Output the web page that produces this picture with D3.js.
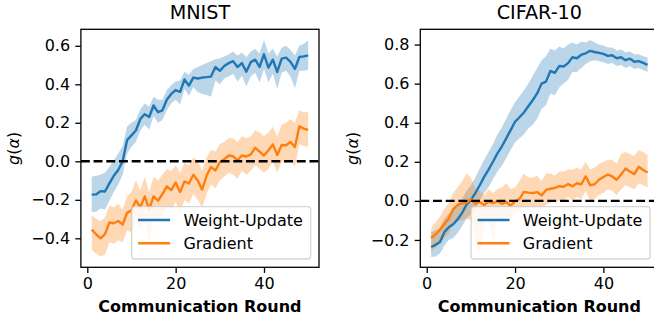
<!DOCTYPE html>
<html>
<head>
<meta charset="utf-8">
<script src="https://cdn.jsdelivr.net/npm/d3@7"></script>
<style>
  html, body { margin: 0; padding: 0; background: #fff; }
  svg { display: block; font-family: "DejaVu Sans", sans-serif; }
</style>
</head>
<body>
<div id="chart"></div>
<script>
// ---------------- DATA ----------------
const rounds = d3.range(1, 51);
const xTicks = [0, 20, 40];
const mnistYTicks = [-0.4, -0.2, 0.0, 0.2, 0.4, 0.6];
const cifarYTicks = [-0.2, 0.0, 0.2, 0.4, 0.6, 0.8];
const panelTitles = ["MNIST", "CIFAR-10"];
const seriesNames = ["Weight-Update", "Gradient"];

// MNIST Weight-Update mean / upper / lower
const mnistWeight = [-0.173,-0.172,-0.155,-0.157,-0.115,-0.075,-0.045,0.0,0.11,0.135,
  0.16,0.22,0.245,0.23,0.29,0.255,0.265,0.32,0.35,0.37,
  0.36,0.425,0.393,0.435,0.43,0.435,0.437,0.44,0.49,0.47,
  0.495,0.51,0.52,0.49,0.51,0.465,0.515,0.528,0.49,0.556,
  0.487,0.528,0.464,0.533,0.539,0.516,0.48,0.542,0.545,0.55];
const mnistWeightUp = [-0.08,-0.075,-0.07,-0.06,-0.03,0.005,0.04,0.08,0.18,0.2,
  0.215,0.27,0.3,0.285,0.335,0.32,0.32,0.37,0.395,0.415,
  0.42,0.465,0.45,0.48,0.49,0.5,0.51,0.52,0.53,0.535,
  0.545,0.555,0.57,0.55,0.565,0.54,0.57,0.585,0.56,0.63,
  0.56,0.585,0.545,0.59,0.6,0.58,0.55,0.6,0.61,0.628];
const mnistWeightLo = [-0.263,-0.262,-0.245,-0.25,-0.205,-0.16,-0.12,-0.07,0.04,0.075,
  0.1,0.16,0.19,0.165,0.235,0.2,0.215,0.265,0.3,0.32,
  0.295,0.375,0.34,0.385,0.36,0.35,0.345,0.335,0.42,0.4,
  0.43,0.44,0.455,0.415,0.445,0.39,0.44,0.46,0.41,0.48,
  0.41,0.455,0.377,0.46,0.47,0.44,0.38,0.47,0.47,0.475];

// MNIST Gradient mean / upper / lower
const mnistGrad = [-0.355,-0.379,-0.4,-0.378,-0.318,-0.322,-0.31,-0.328,-0.268,-0.255,
  -0.203,-0.24,-0.182,-0.25,-0.182,-0.205,-0.17,-0.13,-0.15,-0.11,
  -0.16,-0.105,-0.115,-0.07,-0.1,-0.147,-0.075,-0.03,-0.048,-0.005,
  0.01,0.03,0.026,0.005,0.03,0.025,0.036,0.07,0.05,0.03,
  0.057,0.088,0.033,0.085,0.083,0.1,0.074,0.182,0.17,0.163];
const mnistGradUp = [-0.28,-0.3,-0.31,-0.29,-0.23,-0.24,-0.22,-0.25,-0.18,-0.16,
  -0.1,-0.15,-0.08,-0.16,-0.08,-0.1,-0.07,-0.04,-0.05,-0.02,
  -0.06,-0.01,-0.02,0.02,0.0,-0.05,0.02,0.06,0.05,0.09,
  0.1,0.12,0.12,0.1,0.13,0.12,0.13,0.16,0.15,0.13,
  0.15,0.18,0.13,0.19,0.2,0.22,0.2,0.265,0.255,0.255];
const mnistGradLo = [-0.46,-0.48,-0.494,-0.485,-0.42,-0.43,-0.41,-0.42,-0.36,-0.37,
  -0.31,-0.35,-0.3,-0.42,-0.29,-0.32,-0.28,-0.23,-0.26,-0.21,
  -0.27,-0.2,-0.22,-0.17,-0.2,-0.24,-0.17,-0.12,-0.14,-0.1,
  -0.08,-0.06,-0.07,-0.09,-0.05,-0.07,-0.05,-0.02,-0.04,-0.06,
  -0.04,0.0,-0.06,0.0,-0.01,0.01,-0.03,0.09,0.08,0.075];

// CIFAR-10 Weight-Update mean / upper / lower
const cifarWeight = [-0.236,-0.225,-0.21,-0.16,-0.135,-0.12,-0.095,-0.062,-0.02,0.005,
  0.04,0.08,0.123,0.16,0.2,0.243,0.278,0.32,0.362,0.405,
  0.428,0.452,0.484,0.515,0.55,0.6,0.61,0.665,0.655,0.69,
  0.688,0.705,0.735,0.73,0.748,0.755,0.768,0.762,0.757,0.752,
  0.742,0.745,0.73,0.735,0.72,0.728,0.712,0.715,0.706,0.696];
const cifarWeightUp = [-0.16,-0.15,-0.14,-0.09,-0.065,-0.05,-0.02,0.01,0.05,0.08,
  0.12,0.165,0.21,0.25,0.29,0.34,0.375,0.42,0.465,0.505,
  0.535,0.565,0.6,0.64,0.68,0.72,0.74,0.78,0.77,0.79,
  0.78,0.8,0.81,0.8,0.815,0.81,0.823,0.81,0.8,0.795,
  0.785,0.785,0.77,0.775,0.76,0.765,0.75,0.75,0.74,0.735];
const cifarWeightLo = [-0.287,-0.285,-0.27,-0.23,-0.2,-0.19,-0.165,-0.13,-0.09,-0.07,
  -0.04,0.0,0.04,0.07,0.11,0.15,0.18,0.22,0.26,0.3,
  0.32,0.34,0.37,0.39,0.42,0.47,0.49,0.55,0.54,0.58,
  0.6,0.62,0.66,0.66,0.68,0.7,0.715,0.72,0.715,0.71,
  0.7,0.705,0.69,0.695,0.68,0.69,0.675,0.68,0.67,0.66];

// CIFAR-10 Gradient mean / upper / lower
const cifarGrad = [-0.19,-0.172,-0.148,-0.118,-0.09,-0.042,-0.02,-0.012,-0.01,0.01,
  -0.015,-0.005,-0.022,-0.004,-0.012,-0.002,-0.015,-0.006,-0.025,-0.002,
  0.01,0.046,0.042,0.04,0.045,0.028,0.056,0.062,0.066,0.075,
  0.072,0.086,0.075,0.09,0.085,0.126,0.08,0.085,0.108,0.122,
  0.135,0.125,0.108,0.135,0.165,0.15,0.137,0.175,0.158,0.145];
const cifarGradUp = [-0.14,-0.11,-0.08,-0.04,-0.01,0.04,0.07,0.1,0.14,0.12,
  0.06,0.05,0.03,0.06,0.04,0.06,0.07,0.09,0.06,0.07,
  0.1,0.14,0.12,0.12,0.13,0.1,0.14,0.14,0.13,0.15,
  0.15,0.16,0.16,0.17,0.16,0.2,0.16,0.17,0.19,0.2,
  0.21,0.21,0.19,0.24,0.25,0.24,0.23,0.26,0.25,0.235];
const cifarGradLo = [-0.26,-0.24,-0.22,-0.19,-0.17,-0.12,-0.1,-0.1,-0.09,-0.1,
  -0.2,-0.27,-0.13,-0.09,-0.2,-0.08,-0.1,-0.08,-0.1,-0.06,
  -0.05,-0.04,-0.03,-0.04,-0.03,-0.04,-0.02,-0.01,0.0,0.0,
  0.0,0.02,0.0,0.02,0.01,0.05,0.0,0.01,0.03,0.04,
  0.06,0.05,0.03,0.06,0.08,0.07,0.06,0.09,0.08,0.07];

const mnistYDomain = [-0.5506, 0.6857];
const cifarYDomain = [-0.34, 0.878];
const xDomain = [-1.45, 52.45];

// ---------------- DRAWING ----------------
const W = 654, H = 322;
const C_BLUE = "#1f77b4", C_ORANGE = "#ff7f0e";
const svg = d3.select("#chart").append("svg").attr("width", W).attr("height", H);

const panels = [
  { title: panelTitles[0], left: 80.9, right: 319.0, yDomain: mnistYDomain, yTicks: mnistYTicks,
    series: [
      { name: seriesNames[0], mean: mnistWeight, up: mnistWeightUp, lo: mnistWeightLo, color: C_BLUE },
      { name: seriesNames[1], mean: mnistGrad, up: mnistGradUp, lo: mnistGradLo, color: C_ORANGE }
    ] },
  { title: panelTitles[1], left: 420.3, right: 658.4, yDomain: cifarYDomain, yTicks: cifarYTicks,
    series: [
      { name: seriesNames[0], mean: cifarWeight, up: cifarWeightUp, lo: cifarWeightLo, color: C_BLUE },
      { name: seriesNames[1], mean: cifarGrad, up: cifarGradUp, lo: cifarGradLo, color: C_ORANGE }
    ] }
];

const TOP = 29.3, BOTTOM = 267.3;
const fmt = v => { const s = d3.format(".1f")(Math.abs(v)); return (v < -1e-9 ? "\u2212" : "") + s; };

panels.forEach((p, pi) => {
  const x = d3.scaleLinear().domain(xDomain).range([p.left, p.right]);
  const y = d3.scaleLinear().domain(p.yDomain).range([BOTTOM, TOP]);
  const clipId = "clip" + pi;
  svg.append("clipPath").attr("id", clipId).append("rect")
    .attr("x", p.left).attr("y", TOP).attr("width", p.right - p.left).attr("height", BOTTOM - TOP);
  const g = svg.append("g");
  const plot = g.append("g").attr("clip-path", `url(#${clipId})`);

  p.series.forEach(s => {
    const area = d3.area().x((d, i) => x(rounds[i])).y0((d, i) => y(s.lo[i])).y1((d, i) => y(s.up[i]));
    plot.append("path").datum(s.mean).attr("d", area).attr("fill", s.color).attr("fill-opacity", 0.3).attr("stroke", "none");
  });
  p.series.forEach(s => {
    const line = d3.line().x((d, i) => x(rounds[i])).y(d => y(d));
    plot.append("path").datum(s.mean).attr("d", line).attr("fill", "none")
      .attr("stroke", s.color).attr("stroke-width", 2.4).attr("stroke-linejoin", "round");
  });
  // zero reference line
  plot.append("line").attr("x1", p.left).attr("x2", p.right).attr("y1", y(0)).attr("y2", y(0))
    .attr("stroke", "#000").attr("stroke-width", 2.4).attr("stroke-dasharray", "8.9,3.8");

  // axes
  const xAxis = d3.axisBottom(x).tickValues(xTicks).tickSize(5.6).tickPadding(5.2).tickFormat(d3.format("d"));
  const gx = g.append("g").attr("transform", `translate(0,${BOTTOM})`).call(xAxis);
  const yAxis = d3.axisLeft(y).tickValues(p.yTicks).tickSize(5.6).tickPadding(5.2).tickFormat(fmt);
  const gy = g.append("g").attr("transform", `translate(${p.left},0)`).call(yAxis);
  [gx, gy].forEach(a => {
    a.select(".domain").remove();
    a.selectAll(".tick line").attr("stroke", "#000").attr("stroke-width", 1.3);
    a.selectAll(".tick text").attr("font-size", 16).attr("fill", "#000")
      .attr("font-family", "DejaVu Sans");
  });
  gx.selectAll(".tick text").attr("dy", "0.71em");

  // spines
  g.append("rect").attr("x", p.left).attr("y", TOP).attr("width", p.right - p.left).attr("height", BOTTOM - TOP)
    .attr("fill", "none").attr("stroke", "#000").attr("stroke-width", 1.3);

  // title
  const cx = (p.left + p.right) / 2;
  g.append("text").attr("x", cx).attr("y", 19.3).attr("text-anchor", "middle")
    .attr("font-size", 19.2).text(p.title);
  // x label
  g.append("text").attr("x", cx).attr("y", 311.5).attr("text-anchor", "middle")
    .attr("font-size", 16).attr("font-weight", "bold").text("Communication Round");
  // y label g(α)
  const yl = g.append("text").attr("transform", `translate(${p.left - 62},${(TOP + BOTTOM) / 2}) rotate(-90)`)
    .attr("text-anchor", "middle").attr("font-size", 16);
  yl.append("tspan").attr("font-style", "italic").text("g");
  yl.append("tspan").text("(");
  yl.append("tspan").attr("font-style", "italic").text("\u03b1");
  yl.append("tspan").text(")");

  // legend
  const lw = 179, lh = 52.3;
  const lx = p.right - 8.3 - lw, ly = BOTTOM - 8.3 - lh;
  const lg = g.append("g");
  lg.append("rect").attr("x", lx).attr("y", ly).attr("width", lw).attr("height", lh).attr("rx", 3)
    .attr("fill", "#fff").attr("fill-opacity", 0.8).attr("stroke", "#ccc").attr("stroke-opacity", 0.8).attr("stroke-width", 1.3);
  p.series.forEach((s, i) => {
    const ry = ly + 13.3 + i * 23.3;
    lg.append("line").attr("x1", lx + 6.4).attr("x2", lx + 38.4).attr("y1", ry).attr("y2", ry)
      .attr("stroke", s.color).attr("stroke-width", 2.4);
    lg.append("text").attr("x", lx + 51.7).attr("y", ry + 5.8).attr("font-size", 16).text(s.name);
  });
});
</script>
</body>
</html>
